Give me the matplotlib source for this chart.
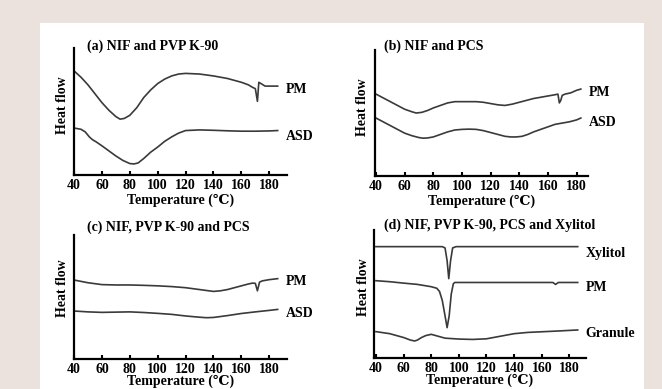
import matplotlib
matplotlib.use("Agg")
import matplotlib.pyplot as plt
from matplotlib.patches import Rectangle

# ---- data (arbitrary heat flow units) ----
a_pm_T = [40, 45, 50, 55, 60, 65, 70, 73, 76, 80, 85, 90, 95, 100, 105, 110, 115, 120, 130, 140,
          150, 160, 165, 168, 170, 171.5, 172.5, 174, 177, 180, 186]
a_pm_v = [0.82, 0.77, 0.71, 0.64, 0.57, 0.51, 0.46, 0.44, 0.445, 0.47, 0.53, 0.61, 0.67, 0.72, 0.755,
          0.78, 0.795, 0.80, 0.795, 0.78, 0.76, 0.73, 0.71, 0.69, 0.68, 0.58, 0.73, 0.72, 0.70, 0.70, 0.70]
a_asd_T = [40, 45, 48, 51, 53, 56, 60, 65, 70, 75, 80, 83, 86, 90, 95, 100, 105, 110, 115, 120,
           130, 140, 150, 160, 170, 180, 186]
a_asd_v = [0.37, 0.36, 0.34, 0.30, 0.28, 0.26, 0.23, 0.19, 0.15, 0.115, 0.09, 0.087, 0.095, 0.13, 0.18,
           0.22, 0.265, 0.30, 0.33, 0.35, 0.355, 0.352, 0.348, 0.345, 0.345, 0.347, 0.35]

b_pm_T = [40, 45, 50, 55, 60, 65, 68, 72, 76, 80, 85, 90, 95, 100, 105, 110, 115, 120, 125, 130, 135,
          140, 145, 150, 155, 160, 165, 167, 168, 169, 170, 172, 176, 180, 183]
b_pm_v = [0.65, 0.62, 0.59, 0.56, 0.53, 0.51, 0.50, 0.505, 0.52, 0.54, 0.56, 0.58, 0.59, 0.59, 0.59,
          0.59, 0.585, 0.575, 0.565, 0.56, 0.57, 0.585, 0.60, 0.615, 0.625, 0.635, 0.645, 0.65, 0.58,
          0.60, 0.64, 0.65, 0.66, 0.68, 0.69]
b_asd_T = [40, 45, 50, 55, 60, 65, 70, 73, 76, 80, 85, 90, 95, 100, 105, 110, 115, 120, 125, 130, 134,
           138, 142, 146, 150, 155, 160, 165, 170, 175, 180, 183]
b_asd_v = [0.46, 0.43, 0.40, 0.37, 0.34, 0.32, 0.305, 0.30, 0.302, 0.31, 0.33, 0.35, 0.365, 0.37, 0.372,
           0.37, 0.36, 0.345, 0.33, 0.315, 0.31, 0.31, 0.315, 0.33, 0.35, 0.37, 0.39, 0.41, 0.42, 0.43,
           0.445, 0.46]

c_pm_T = [40, 50, 60, 70, 80, 90, 100, 110, 120, 130, 140, 145, 150, 155, 160, 165, 168, 170, 171.5,
          173, 175, 180, 186]
c_pm_v = [0.637, 0.615, 0.60, 0.597, 0.597, 0.594, 0.59, 0.584, 0.575, 0.56, 0.545, 0.55, 0.56, 0.575,
          0.59, 0.605, 0.612, 0.61, 0.55, 0.62, 0.63, 0.64, 0.648]
c_asd_T = [40, 50, 60, 70, 80, 90, 100, 110, 120, 130, 135, 140, 150, 160, 170, 180, 186]
c_asd_v = [0.387, 0.38, 0.376, 0.378, 0.38, 0.375, 0.368, 0.36, 0.347, 0.337, 0.333, 0.335, 0.35,
           0.367, 0.38, 0.392, 0.40]

d_xyl_T = [40, 80, 88, 90, 91.5, 92.7, 94, 95.5, 98, 120, 150, 186]
d_xyl_v = [0.87, 0.87, 0.87, 0.86, 0.76, 0.62, 0.76, 0.86, 0.87, 0.87, 0.87, 0.87]
d_pm_T = [40, 50, 60, 70, 80, 84, 86, 88, 90, 91.5, 93, 94.5, 96, 97, 100, 120, 150, 168, 170, 172,
          174, 186]
d_pm_v = [0.604, 0.596, 0.585, 0.575, 0.557, 0.545, 0.52, 0.45, 0.33, 0.237, 0.33, 0.50, 0.58, 0.59,
          0.59, 0.59, 0.59, 0.59, 0.575, 0.59, 0.59, 0.59]
d_gr_T = [40, 50, 60, 65, 68, 70, 73, 76, 80, 85, 90, 100, 110, 120, 130, 140, 150, 160, 170, 186]
d_gr_v = [0.206, 0.19, 0.16, 0.14, 0.133, 0.14, 0.16, 0.175, 0.185, 0.17, 0.155, 0.148, 0.145, 0.15,
          0.17, 0.19, 0.20, 0.205, 0.21, 0.219]

xticks = [40, 60, 80, 100, 120, 140, 160, 180]

W, H = 662, 389
SERIF = ['Liberation Serif', 'DejaVu Serif', 'DejaVu Sans']
plt.rcParams['font.family'] = SERIF
plt.rcParams['font.weight'] = 'bold'

fig = plt.figure(figsize=(W / 100, H / 100), dpi=100, facecolor='#ECE2DD')
fig.patches.append(Rectangle((40 / W, 0), (644 - 40) / W, (H - 23) / H, transform=fig.transFigure,
                             facecolor='white', edgecolor='none', zorder=-10))

LC = '#3a3a3a'
FS = 10


def panel(box, xlim, title, title_pos, ylab_pos, curves, labelpad=1):
    l, t, r, b = box
    ax = fig.add_axes([l / W, 1 - b / H, (r - l) / W, (b - t) / H])
    ax.patch.set_alpha(0)
    for T, v, name, off in curves:
        ax.plot(T, v, color=LC, lw=1.2)
        ax.annotate(name, (T[-1], v[-1]), xytext=(8, off), textcoords='offset pixels',
                    ha='left', va='center', fontsize=FS, fontweight='bold', annotation_clip=False)
    ax.set_xlim(*xlim)
    ax.set_ylim(0, 1)
    ax.set_yticks([])
    ax.set_xticks(xticks)
    ax.tick_params(axis='x', direction='in', length=3, width=1.5, pad=3, labelsize=FS)
    for s in ['top', 'right']:
        ax.spines[s].set_visible(False)
    for s in ['left', 'bottom']:
        ax.spines[s].set_linewidth(1.6)
    ax.text(title_pos[0], title_pos[1], title, transform=ax.transAxes, ha='left', va='center',
            fontsize=FS, fontweight='bold')
    ax.text(ylab_pos[0], ylab_pos[1], 'Heat flow', transform=ax.transAxes, rotation=90,
            ha='center', va='center', fontsize=FS, fontweight='bold')
    ax.set_xlabel('Temperature (\u2103)', fontsize=FS, fontweight='bold', labelpad=labelpad)
    return ax


panel((74, 48, 287, 175), (40, 192.7), '(a) NIF and PVP K-90', (0.061, 1.01), (-0.056, 0.55),
      [(a_pm_T, a_pm_v, 'PM', -3), (a_asd_T, a_asd_v, 'ASD', -6)])
panel((375, 50, 588, 176), (39.3, 188), '(b) NIF and PCS', (0.042, 1.03), (-0.058, 0.55),
      [(b_pm_T, b_pm_v, 'PM', -3), (b_asd_T, b_asd_v, 'ASD', -4)])
panel((74, 235, 287, 359), (40, 192.7), '(c) NIF, PVP K-90 and PCS', (0.061, 1.065), (-0.056, 0.57),
      [(c_pm_T, c_pm_v, 'PM', -3), (c_asd_T, c_asd_v, 'ASD', -4)], labelpad=-1)
panel((374, 230, 586, 358), (38.6, 192), '(d) NIF, PVP K-90, PCS and Xylitol', (0.047, 1.04),
      (-0.05, 0.55),
      [(d_xyl_T, d_xyl_v, 'Xylitol', -7), (d_pm_T, d_pm_v, 'PM', -5), (d_gr_T, d_gr_v, 'Granule', -4)],
      labelpad=-1)

fig.savefig('out.png', dpi=100, facecolor=fig.get_facecolor())
